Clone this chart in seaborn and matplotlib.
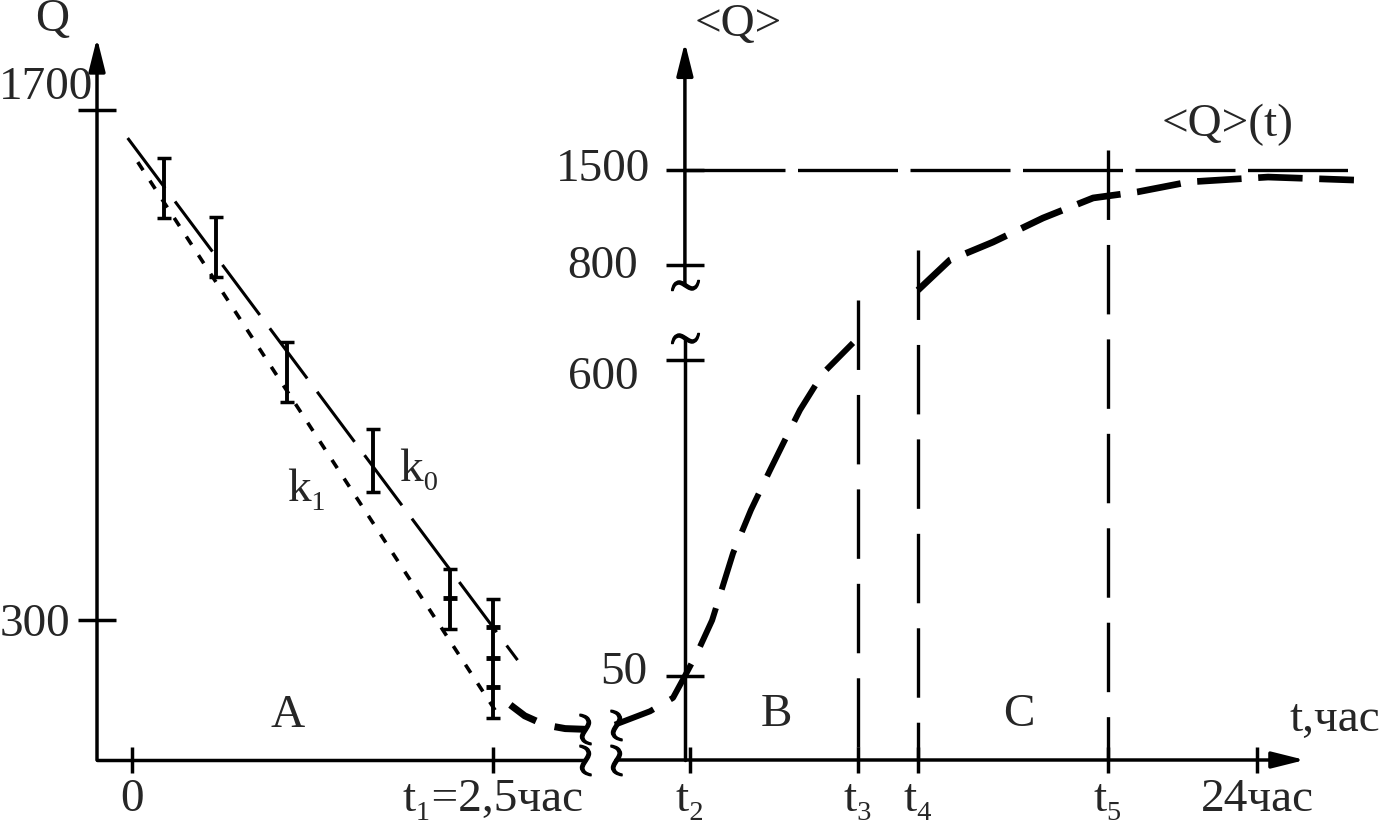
import numpy as np
import seaborn as sns
import matplotlib.pyplot as plt

sns.set_style("white")
plt.rcParams["font.family"] = ["Liberation Serif", "DejaVu Serif"]
plt.rcParams["mathtext.fontset"] = "stix"
plt.rcParams["lines.scale_dashes"] = False
FS = 34

# stage A: measured Q (mean +- error) during the first 2.5 hours
t_meas = [0.22, 0.58, 1.07, 1.67, 2.20, 2.50]
q_mean = [1486, 1324, 980, 737, 358, 195]
q_err = [82, 82, 82, 86, 82, 163]
t_marks = [2.20, 2.50, 2.50, 2.50]
q_marks = [360, 281, 196, 116]

# fitted lines k0, k1 and the tail of the decay
t_k0 = [-0.03, 2.67]
q_k0 = [1623, 190]
t_k1 = [0.04, 2.55]
q_k1 = [1557, 31]
t_tail = [2.62, 2.72, 2.86, 3.00, 3.14]
q_tail = [67, 37, 12, 2, 0]

# stages B and C: mean <Q>(t) after the break of the time axis (hours estimated)
t_B = [1.35, 2.59, 3.40, 3.82, 4.25, 4.78, 5.52, 6.15, 6.82, 7.35, 7.88, 8.69, 9.75]
q_B = [21, 29, 37, 50, 90, 147, 264, 339, 408, 461, 513, 577, 636]
t_C = [12.04, 13.17, 14.69, 16.45, 18.22, 19.77, 21.60, 24.39, 27.42]
q_C = [747, 837, 969, 1146, 1294, 1338, 1412, 1448, 1426]
q_limit = 1500

t_ticks_right = [4.0, 9.93, 12.04, 18.74, 24.0]
t_labels_right = ["t₂", "t₃", "t₄", "t₅", "24час"]
t_bounds = [9.93, 12.04, 18.74]
q_bound_tops = [726, 911, 1545]

q_ticks_left = [1700, 300]
q_ticks_right = [50, 600, 800, 1500]

# right axis has uneven spacing (break between 600 and 800)
q_knots = [0, 50, 600, 800, 1500, 1800]
h_knots = [0, 84, 400, 495, 590, 722]


def _interp(x, xp, fp):
    x = np.asarray(x, dtype=float)
    s0 = (fp[1] - fp[0]) / (xp[1] - xp[0])
    s1 = (fp[-1] - fp[-2]) / (xp[-1] - xp[-2])
    return np.where(x < xp[0], fp[0] + (x - xp[0]) * s0,
                    np.where(x > xp[-1], fp[-1] + (x - xp[-1]) * s1,
                             np.interp(x, xp, fp)))


def fwd(q):
    return _interp(q, q_knots, h_knots)


def inv(h):
    return _interp(h, h_knots, q_knots)


fig = plt.figure(figsize=(13.82, 8.30), dpi=100)
axL = fig.add_axes([97 / 1382, 70 / 830, 503 / 1382, 722 / 830])
axR = fig.add_axes([600 / 1382, 70 / 830, 782 / 1382, 722 / 830])

arrow = dict(arrowstyle="-|>,head_length=1.0,head_width=0.25", lw=2.5,
             color="black", mutation_scale=20, shrinkA=0, shrinkB=0)


def style_ticks(ax):
    ax.tick_params(axis="x", direction="inout", length=19, width=2.5,
                   color="black", pad=4, bottom=True, top=False)
    ax.tick_params(axis="y", direction="inout", length=28, width=2.5,
                   color="black", left=True, right=False)


# ---------------- left panel ----------------
xL = (-0.2424, 3.241)
yL = (-84.2, 1897.6)
axL.set_xlim(*xL)
axL.set_ylim(*yL)
for s in axL.spines.values():
    s.set_visible(False)
axL.patch.set_alpha(0)

axL.errorbar(t_meas, q_mean, yerr=q_err, fmt="none", ecolor="black",
             elinewidth=2.8, capsize=5, capthick=2.5)
axL.plot(t_marks, q_marks, ls="none", marker="_", ms=10, mew=3.5, color="black")
sns.lineplot(x=t_k0, y=q_k0, ax=axL, color="black", lw=2.2,
             linestyle=(0, (45, 12)), errorbar=None, sort=False)
sns.lineplot(x=t_k1, y=q_k1, ax=axL, color="black", lw=2.6,
             linestyle=(0, (7, 9)), errorbar=None, sort=False)
sns.lineplot(x=t_tail, y=q_tail, ax=axL, color="black", lw=5,
             linestyle=(6, (28, 14)), errorbar=None, sort=False)

axL.annotate("", xy=(xL[0], yL[1]), xytext=(xL[0], yL[0]), arrowprops=arrow,
             annotation_clip=False)
axL.plot([xL[0], 3.137], [yL[0], yL[0]], color="black", lw=2.5, clip_on=False)
axL.plot([3.137, 3.137], [yL[0], 1], ls="none", marker="$\\wr$", ms=22,
         color="black", clip_on=False)

axL.set_xticks([0, 2.5])
axL.set_xticklabels(["0", "t₁=2,5час"], fontsize=FS)
axL.set_yticks(q_ticks_left)
axL.set_yticklabels([])
style_ticks(axL)

axL.text(-0.554, 1947, "Q", fontsize=FS, ha="center", va="center")
axL.text(-0.27, 1760, "1700", fontsize=FS, ha="right", va="center")
axL.text(-0.43, 286, "300", fontsize=FS, ha="right", va="center")
axL.text(1.08, 37, "A", fontsize=FS, ha="center", va="center")
axL.text(1.21, 657, "k₁", fontsize=FS, ha="center", va="center")
axL.text(1.99, 712, "k₀", fontsize=FS, ha="center", va="center")

# ---------------- right panel ----------------
y_axis_x = 3.82
axR.set_yscale("function", functions=(fwd, inv))
axR.set_xlim(0.825, 28.41)
axR.set_ylim(0, 1800)
for s in axR.spines.values():
    s.set_visible(False)
axR.spines["left"].set_position(("data", y_axis_x))
axR.patch.set_alpha(0)

sns.lineplot(x=t_B, y=q_B, ax=axR, color="black", lw=4.3,
             linestyle=(0, (30, 14)), errorbar=None, sort=False)
sns.lineplot(x=t_C, y=q_C, ax=axR, color="black", lw=4.8,
             linestyle=(0, (32, 12)), errorbar=None, sort=False)
axR.hlines(q_limit, y_axis_x, 27.28, color="black", lw=2.4,
           linestyle=(0, (72, 9)))
axR.vlines(t_bounds, q_bound_tops, [0] * len(t_bounds), color="black", lw=2.4,
           linestyle=(0, (50, 18)))

axR.annotate("", xy=(25.69, 0), xytext=(1.39, 0), arrowprops=arrow,
             annotation_clip=False)
axR.annotate("", xy=(y_axis_x, 1790), xytext=(y_axis_x, 758), arrowprops=arrow,
             annotation_clip=False)
axR.plot([y_axis_x, y_axis_x], [0, 646], color="black", lw=2.5, clip_on=False)
axR.plot([1.39, 1.39], [0, 21], ls="none", marker="$\\wr$", ms=22,
         color="black", clip_on=False)
axR.plot([y_axis_x, y_axis_x], [646, 758], ls="none", marker="$\\sim$", ms=20,
         color="black", clip_on=False)

axR.set_xticks(t_ticks_right)
axR.set_xticklabels(t_labels_right, fontsize=FS)
axR.set_yticks(q_ticks_right)
axR.set_yticklabels([])
axR.minorticks_off()
style_ticks(axR)

axR.text(2.59, 1500, "1500", fontsize=FS, ha="right", va="center")
axR.text(2.17, 796, "800", fontsize=FS, ha="right", va="center")
axR.text(2.17, 569, "600", fontsize=FS, ha="right", va="center")
axR.text(2.48, 55, "50", fontsize=FS, ha="right", va="center")
axR.text(5.69, 1830, "<Q>", fontsize=FS, ha="center", va="center")
axR.text(22.98, 1602, "<Q>(t)", fontsize=FS, ha="center", va="center")
axR.text(7.03, 27, "B", fontsize=FS, ha="center", va="center")
axR.text(15.6, 27, "C", fontsize=FS, ha="center", va="center")
axR.text(28.34, 24, "t,час", fontsize=FS, ha="right", va="center")

fig.savefig("out.png", dpi=100)
